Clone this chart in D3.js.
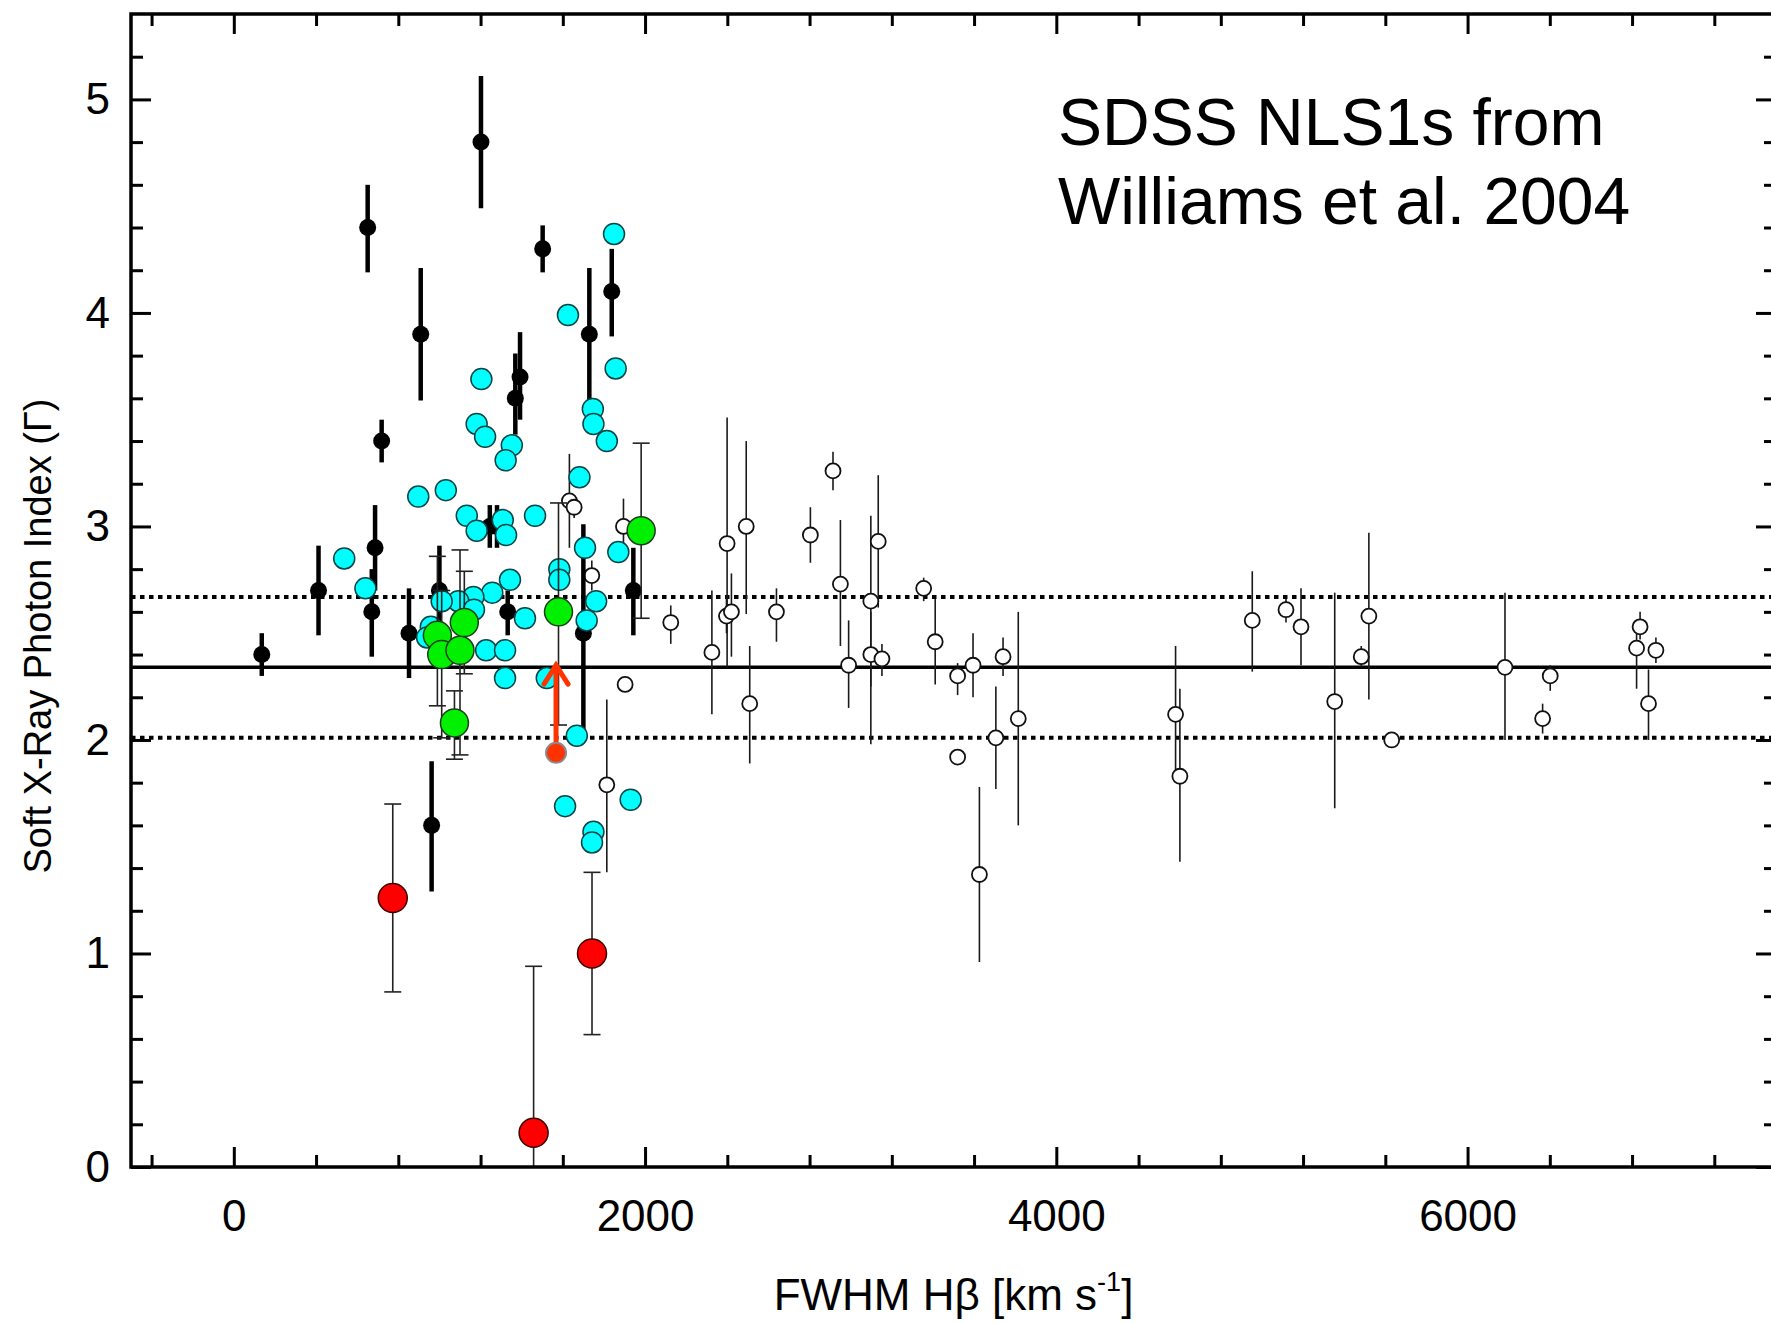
<!DOCTYPE html>
<html>
<head>
<meta charset="utf-8">
<script src="https://cdn.jsdelivr.net/npm/d3@7"></script>
<style>
  html, body { margin: 0; padding: 0; background: #ffffff; }
  svg { display: block; }
  text { font-family: "Liberation Sans", Arial, Helvetica, sans-serif; }
</style>
</head>
<body>
<svg id="chart" width="1771" height="1323"></svg>
<script>
// Soft X-ray photon index vs. FWHM(Hbeta) for SDSS narrow-line Seyfert 1s.

// Axis ticks and labels
const xMajorTicks = [0, 2000, 4000, 6000];
const xMinorTicks = [-400, 400, 800, 1200, 1600, 2400, 2800, 3200, 3600, 4400, 4800, 5200, 5600, 6400, 6800, 7200];
const yMajorTicks = [0, 1, 2, 3, 4, 5];
const yMinorTicks = [0.2, 0.4, 0.6, 0.8, 1.2, 1.4, 1.6, 1.8, 2.2, 2.4, 2.6, 2.8, 3.2, 3.4, 3.6, 3.8, 4.2, 4.4, 4.6, 4.8, 5.2];
const xTitle = "FWHM H\u03B2 [km s";
const xTitleSup = "-1";
const yTitle = "Soft X-Ray Photon Index (\u0393)";
const noteLines = ["SDSS NLS1s from", "Williams et al. 2004"];

// Sample mean of Gamma and its 1-sigma spread
const meanGamma = 2.34;
const spreadGamma = [2.67, 2.01];

// [FWHM, Gamma, lower error end, upper error end]
const sdssSources = [
  [1632, 3.12, 2.90, 3.34], [1655, 3.09, 3.04, 3.14], [1741, 2.77, 2.70, 2.84],
  [1814, 1.79, 1.38, 2.19], [1895, 3.00, 2.87, 3.13], [1903, 2.26, 2.23, 2.29],
  [2125, 2.55, 2.45, 2.63], [2325, 2.41, 2.12, 2.70], [2399, 2.92, 2.34, 3.51],
  [2396, 2.58, 2.50, 2.66], [2420, 2.60, 2.39, 2.78], [2492, 3.00, 2.59, 3.40],
  [2509, 2.17, 1.89, 2.44], [2639, 2.60, 2.46, 2.71], [2804, 2.96, 2.83, 3.09],
  [2914, 3.26, 3.17, 3.35], [2950, 2.73, 2.44, 3.03], [2990, 2.35, 2.15, 2.56],
  [3098, 2.65, 2.25, 3.05], [3098, 2.40, 1.98, 2.60], [3134, 2.93, 2.62, 3.24],
  [3152, 2.38, 2.30, 2.45], [3355, 2.71, 2.65, 2.76], [3411, 2.46, 2.26, 2.66],
  [3520, 2.30, 2.21, 2.36], [3520, 1.92, 1.92, 1.92], [3595, 2.35, 2.20, 2.50],
  [3626, 1.37, 0.96, 1.78], [3706, 2.01, 1.77, 2.25], [3741, 2.39, 2.30, 2.48],
  [3815, 2.10, 1.60, 2.60], [4580, 2.12, 1.80, 2.44], [4601, 1.83, 1.43, 2.24],
  [4953, 2.56, 2.32, 2.79], [5117, 2.61, 2.55, 2.66], [5190, 2.53, 2.35, 2.71],
  [5354, 2.18, 1.68, 2.69], [5483, 2.39, 2.34, 2.44], [5520, 2.58, 2.19, 2.97],
  [5631, 2.00, 1.98, 2.02], [6182, 2.34, 2.00, 2.69], [6365, 2.10, 2.03, 2.17],
  [6402, 2.30, 2.23, 2.35], [6822, 2.43, 2.24, 2.50], [6839, 2.53, 2.47, 2.60],
  [6880, 2.17, 2.00, 2.33], [6916, 2.42, 2.36, 2.48]
];

// [FWHM, Gamma, lower error end, upper error end]
const blackSources = [
  [136, 2.40, 2.30, 2.50], [412, 2.70, 2.49, 2.91], [651, 4.40, 4.19, 4.60],
  [671, 2.60, 2.39, 2.80], [687, 2.90, 2.70, 3.10], [719, 3.40, 3.30, 3.50],
  [852, 2.50, 2.29, 2.71], [909, 3.90, 3.59, 4.21], [962, 1.60, 1.29, 1.90],
  [1000, 2.70, 2.49, 2.91], [1202, 4.80, 4.49, 5.11], [1245, 3.00, 2.90, 3.10],
  [1280, 3.00, 2.90, 3.10], [1332, 2.60, 2.49, 2.70], [1369, 3.60, 3.43, 3.81],
  [1392, 3.70, 3.50, 3.91], [1502, 4.30, 4.19, 4.41], [1700, 2.50, 2.05, 3.01],
  [1729, 3.90, 3.59, 4.21], [1838, 4.10, 3.89, 4.30], [1943, 2.70, 2.49, 2.90]
];

// [FWHM, Gamma]
const cyanSources = [
  [537, 2.85], [640, 2.71], [897, 3.14], [1031, 3.17], [1204, 3.69], [1181, 3.48],
  [1222, 3.42], [1352, 3.38], [1322, 3.31], [1133, 3.05], [1181, 2.98], [1308, 3.03],
  [1324, 2.96], [1465, 3.05], [1625, 3.99], [1849, 4.37], [1857, 3.74], [1746, 3.55],
  [1749, 3.48], [1814, 3.40], [1681, 3.23], [1708, 2.90], [1870, 2.88], [1343, 2.75],
  [1583, 2.80], [1583, 2.75], [1257, 2.69], [1165, 2.67], [1092, 2.65], [1011, 2.65],
  [1168, 2.61], [1762, 2.65], [1716, 2.56], [1416, 2.57], [1227, 2.42], [1319, 2.42],
  [1319, 2.29], [1522, 2.29], [1668, 2.02], [958, 2.53], [940, 2.48], [1611, 1.69],
  [1749, 1.57], [1742, 1.52], [1930, 1.72]
];

// [FWHM, Gamma, lower error end, upper error end]
const greenSources = [
  [990, 2.49, 2.16, 2.86], [1011, 2.40, 2.01, 2.70], [1073, 2.08, 1.91, 2.23],
  [1100, 2.42, 1.93, 2.89], [1121, 2.55, 2.31, 2.79], [1579, 2.60, 2.07, 3.11],
  [1981, 2.98, 2.57, 3.39]
];

// [FWHM, Gamma, lower error end, upper error end]
const redSources = [
  [773, 1.26, 0.82, 1.70], [1458, 0.16, 0.00, 0.94], [1742, 1.00, 0.62, 1.38]
];

// Lower limit: [FWHM, Gamma, arrow end]
const lowerLimit = [1567, 1.94, 2.36];

// ---------------------------------------------------------------------------
const svg = d3.select("#chart");
const plot = { left: 131, right: 1776, top: 14, bottom: 1167 };

const x = d3.scaleLinear().domain([-500, 7500]).range([plot.left, plot.right]);
const y = d3.scaleLinear().domain([0, 5.4]).range([plot.bottom, plot.top]);

svg.append("defs").append("clipPath").attr("id", "plot-clip")
  .append("rect")
  .attr("x", plot.left).attr("y", plot.top)
  .attr("width", plot.right - plot.left).attr("height", plot.bottom - plot.top);

const body = svg.append("g").attr("clip-path", "url(#plot-clip)");

// Mean and spread lines
body.append("line")
  .attr("x1", x(-500)).attr("x2", x(7500))
  .attr("y1", y(meanGamma)).attr("y2", y(meanGamma))
  .attr("stroke", "#000").attr("stroke-width", 3.5);

body.selectAll("line.spread").data(spreadGamma).join("line")
  .attr("class", "spread")
  .attr("x1", x(-500)).attr("x2", x(7500))
  .attr("y1", d => y(d)).attr("y2", d => y(d))
  .attr("stroke", "#000").attr("stroke-width", 4)
  .attr("stroke-dasharray", "4.5 4.5");

// SDSS sources: thin bars, small open circles
body.selectAll("line.sdss-err").data(sdssSources).join("line")
  .attr("class", "sdss-err")
  .attr("x1", d => x(d[0])).attr("x2", d => x(d[0]))
  .attr("y1", d => y(d[2])).attr("y2", d => y(d[3]))
  .attr("stroke", "#1a1a1a").attr("stroke-width", 1.6);
body.selectAll("circle.sdss").data(sdssSources).join("circle")
  .attr("class", "sdss")
  .attr("cx", d => x(d[0])).attr("cy", d => y(d[1])).attr("r", 7.5)
  .attr("fill", "#fff").attr("stroke", "#111").attr("stroke-width", 1.8);

// Filled black sources with heavy bars
body.selectAll("line.black-err").data(blackSources).join("line")
  .attr("class", "black-err")
  .attr("x1", d => x(d[0])).attr("x2", d => x(d[0]))
  .attr("y1", d => y(d[2])).attr("y2", d => y(d[3]))
  .attr("stroke", "#000").attr("stroke-width", 4.5);
body.selectAll("circle.black").data(blackSources).join("circle")
  .attr("class", "black")
  .attr("cx", d => x(d[0])).attr("cy", d => y(d[1])).attr("r", 8.5)
  .attr("fill", "#000");

// Cyan sources
body.selectAll("circle.cyan").data(cyanSources).join("circle")
  .attr("class", "cyan")
  .attr("cx", d => x(d[0])).attr("cy", d => y(d[1])).attr("r", 10.5)
  .attr("fill", "#00ffff").attr("stroke", "#0b4545").attr("stroke-width", 1.5);

// Capped error bars
function cappedBars(cls, data) {
  const g = body.append("g").attr("class", cls);
  const bars = g.selectAll("g").data(data).join("g");
  bars.append("line")
    .attr("x1", d => x(d[0])).attr("x2", d => x(d[0]))
    .attr("y1", d => y(d[2])).attr("y2", d => y(d[3]));
  bars.append("line")
    .attr("x1", d => x(d[0]) - 8.5).attr("x2", d => x(d[0]) + 8.5)
    .attr("y1", d => y(d[2])).attr("y2", d => y(d[2]));
  bars.append("line")
    .attr("x1", d => x(d[0]) - 8.5).attr("x2", d => x(d[0]) + 8.5)
    .attr("y1", d => y(d[3])).attr("y2", d => y(d[3]));
  g.selectAll("line").attr("stroke", "#222").attr("stroke-width", 1.6);
}

// Green sources
cappedBars("green-err", greenSources);
body.selectAll("circle.green").data(greenSources).join("circle")
  .attr("class", "green")
  .attr("cx", d => x(d[0])).attr("cy", d => y(d[1])).attr("r", 14)
  .attr("fill", "#00f000").attr("stroke", "#1d3d1d").attr("stroke-width", 1.5);

// Red sources
cappedBars("red-err", redSources);
body.selectAll("circle.red").data(redSources).join("circle")
  .attr("class", "red")
  .attr("cx", d => x(d[0])).attr("cy", d => y(d[1])).attr("r", 14.5)
  .attr("fill", "#ff0000").attr("stroke", "#3d0000").attr("stroke-width", 1.5);

// Lower limit with upward arrow
const lx = x(lowerLimit[0]), ly = y(lowerLimit[1]), ltip = y(lowerLimit[2]);
body.append("line")
  .attr("x1", lx).attr("x2", lx).attr("y1", ly).attr("y2", ltip + 2)
  .attr("stroke", "#ff3300").attr("stroke-width", 5);
body.append("path")
  .attr("d", `M${lx - 12},${ltip + 21} L${lx},${ltip + 2} L${lx + 12},${ltip + 21}`)
  .attr("fill", "none").attr("stroke", "#ff3300").attr("stroke-width", 5)
  .attr("stroke-linecap", "round").attr("stroke-linejoin", "miter");
body.append("circle")
  .attr("cx", lx).attr("cy", ly).attr("r", 10)
  .attr("fill", "#ff3300").attr("stroke", "#8a8a8a").attr("stroke-width", 2);

// ---------------------------------------------------------------------------
// Axes: inward ticks on all four sides
const FONT = '"Liberation Sans", Arial, Helvetica, sans-serif';
function styleAxis(g) {
  g.select(".domain").remove();
  g.selectAll(".tick line").attr("stroke", "#000").attr("stroke-width", 3);
  g.attr("font-family", FONT).attr("font-size", 44);
  g.selectAll(".tick text").attr("fill", "#000");
}
const major = 20, minor = 12;

svg.append("g").attr("transform", `translate(0,${plot.bottom})`)
  .call(d3.axisBottom(x).tickValues(xMajorTicks).tickSizeInner(-major).tickSizeOuter(0)
    .tickPadding(33).tickFormat(d3.format("d"))).call(styleAxis);
svg.append("g").attr("transform", `translate(0,${plot.bottom})`)
  .call(d3.axisBottom(x).tickValues(xMinorTicks).tickSizeInner(-minor).tickSizeOuter(0)
    .tickFormat("")).call(styleAxis);
svg.append("g").attr("transform", `translate(0,${plot.top})`)
  .call(d3.axisTop(x).tickValues(xMajorTicks).tickSizeInner(-major).tickSizeOuter(0)
    .tickFormat("")).call(styleAxis);
svg.append("g").attr("transform", `translate(0,${plot.top})`)
  .call(d3.axisTop(x).tickValues(xMinorTicks).tickSizeInner(-minor).tickSizeOuter(0)
    .tickFormat("")).call(styleAxis);

svg.append("g").attr("transform", `translate(${plot.left},0)`)
  .call(d3.axisLeft(y).tickValues(yMajorTicks).tickSizeInner(-major).tickSizeOuter(0)
    .tickPadding(21).tickFormat(d3.format("d"))).call(styleAxis);
svg.append("g").attr("transform", `translate(${plot.left},0)`)
  .call(d3.axisLeft(y).tickValues(yMinorTicks).tickSizeInner(-minor).tickSizeOuter(0)
    .tickFormat("")).call(styleAxis);
svg.append("g").attr("transform", `translate(${plot.right},0)`)
  .call(d3.axisRight(y).tickValues(yMajorTicks).tickSizeInner(-major).tickSizeOuter(0)
    .tickFormat("")).call(styleAxis);
svg.append("g").attr("transform", `translate(${plot.right},0)`)
  .call(d3.axisRight(y).tickValues(yMinorTicks).tickSizeInner(-minor).tickSizeOuter(0)
    .tickFormat("")).call(styleAxis);

// Frame
svg.append("rect")
  .attr("x", plot.left).attr("y", plot.top)
  .attr("width", plot.right - plot.left).attr("height", plot.bottom - plot.top)
  .attr("fill", "none").attr("stroke", "#000").attr("stroke-width", 3.5);

// Axis titles
const xt = svg.append("text")
  .attr("x", (plot.left + plot.right) / 2).attr("y", 1310)
  .attr("text-anchor", "middle").attr("font-size", 44).attr("fill", "#000");
xt.append("tspan").text(xTitle);
xt.append("tspan").attr("font-size", 27).attr("dy", -19).text(xTitleSup);
xt.append("tspan").attr("font-size", 44).attr("dy", 19).text("]");

svg.append("text")
  .attr("transform", `translate(51,636) rotate(-90)`)
  .attr("text-anchor", "middle").attr("font-size", 38).attr("fill", "#000")
  .text(yTitle);

// Annotation
svg.append("g").selectAll("text").data(noteLines).join("text")
  .attr("x", 1058).attr("y", (d, i) => 145 + i * 79)
  .attr("font-size", 66).attr("fill", "#000")
  .text(d => d);
</script>
</body>
</html>
